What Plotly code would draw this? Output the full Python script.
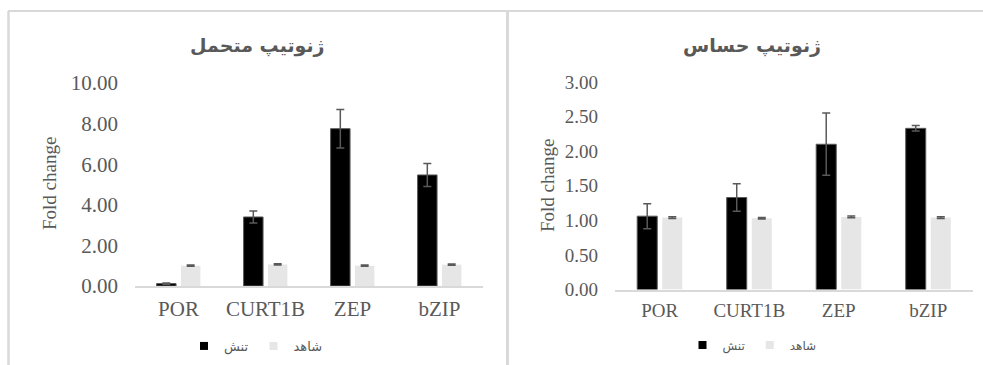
import plotly.graph_objects as go

genes = ["POR", "CURT1B", "ZEP", "bZIP"]
series_names = ["تنش", "شاهد"]
panel_titles = ["ژنوتیپ متحمل", "ژنوتیپ حساس"]

tol_stress = [0.12, 3.40, 7.75, 5.47]
tol_stress_err = [0.03, 0.30, 0.95, 0.57]
tol_control = [1.00, 1.06, 1.00, 1.05]
tol_control_err = [0.03, 0.03, 0.03, 0.03]

sen_stress = [1.06, 1.33, 2.10, 2.33]
sen_stress_err = [0.18, 0.20, 0.45, 0.04]
sen_control = [1.04, 1.03, 1.05, 1.04]
sen_control_err = [0.012, 0.012, 0.012, 0.012]

tol_ticks = [0, 2, 4, 6, 8, 10]
sen_ticks = [0, 0.5, 1, 1.5, 2, 2.5, 3]

W, H = 983, 365
def px(x):
    return x / W
def py(y):
    return (H - y) / H

GREY = "#595959"
BLACK = "#000000"
LIGHT = "#e7e6e6"
BORDER = "#d9d9d9"
SERIF = "Liberation Serif, Times New Roman, serif"
ARAB = "DejaVu Sans, sans-serif"

fig = go.Figure()

def add_pair(stress, s_err, control, c_err, xa, ya, legend):
    fig.add_trace(go.Bar(
        x=genes, y=stress, name=series_names[0], xaxis=xa, yaxis=ya, showlegend=False,
        marker=dict(color=BLACK, line=dict(color=GREY, width=1)),
        error_y=dict(type="data", array=s_err, visible=True, color=GREY, thickness=1.5, width=4),
    ))
    fig.add_trace(go.Bar(
        x=genes, y=control, name=series_names[1], xaxis=xa, yaxis=ya, showlegend=False,
        marker=dict(color=LIGHT, line=dict(color=LIGHT, width=0)),
        error_y=dict(type="data", array=c_err, visible=True, color=GREY, thickness=1.5, width=4),
    ))
    # legend entries (small square swatches)
    for name, col in zip(series_names, [BLACK, LIGHT]):
        fig.add_trace(go.Scatter(
            x=[None], y=[None], mode="markers", name=name, xaxis=xa, yaxis=ya, legend=legend,
            marker=dict(symbol="square", size=8, color=col), hoverinfo="skip",
        ))

add_pair(tol_stress, tol_stress_err, tol_control, tol_control_err, "x", "y", "legend")
add_pair(sen_stress, sen_stress_err, sen_control, sen_control_err, "x2", "y2", "legend2")

xcommon = dict(showline=True, linecolor=BORDER, linewidth=1.5, ticks="", showgrid=False,
               zeroline=False, fixedrange=True, automargin=False)
ycommon = dict(showline=False, ticks="", showgrid=False, zeroline=False, tickformat=".2f",
               fixedrange=True, automargin=False)

fig.update_layout(
    width=W, height=H, autosize=False,
    margin=dict(l=0, r=0, t=0, b=0, pad=0),
    paper_bgcolor="white", plot_bgcolor="white",
    barmode="group", bargap=0.44, bargroupgap=0.2,
    showlegend=True,
    xaxis=dict(domain=[px(135), px(483)], anchor="y",
               tickfont=dict(family=SERIF, size=21, color=GREY), ticklabelstandoff=3, **xcommon),
    yaxis=dict(domain=[py(286), py(83)], anchor="x", range=[0, 10], tickvals=tol_ticks,
               tickfont=dict(family=SERIF, size=21, color=GREY), ticklabelstandoff=16, **ycommon),
    xaxis2=dict(domain=[px(615), px(973)], anchor="y2",
                tickfont=dict(family=SERIF, size=19, color=GREY), ticklabelstandoff=3, **xcommon),
    yaxis2=dict(domain=[py(289.5), py(82)], anchor="x2", range=[0, 3], tickvals=sen_ticks,
                tickfont=dict(family=SERIF, size=19, color=GREY), ticklabelstandoff=16, **ycommon),
    legend=dict(orientation="h", x=px(256), y=py(346), xanchor="center", yanchor="middle",
                font=dict(family=ARAB, size=13, color=GREY), bgcolor="rgba(0,0,0,0)",
                itemclick=False, itemdoubleclick=False),
    legend2=dict(orientation="h", x=px(752), y=py(345), xanchor="center", yanchor="middle",
                 font=dict(family=ARAB, size=12, color=GREY), bgcolor="rgba(0,0,0,0)",
                 itemclick=False, itemdoubleclick=False),
    annotations=[
        dict(text="<b>" + panel_titles[0] + "</b>", x=px(257), y=py(45), xref="paper", yref="paper",
             xanchor="center", yanchor="middle",
             showarrow=False, font=dict(family=ARAB, size=19, color=GREY)),
        dict(text="<b>" + panel_titles[1] + "</b>", x=px(752), y=py(45), xref="paper", yref="paper",
             xanchor="center", yanchor="middle",
             showarrow=False, font=dict(family=ARAB, size=19, color=GREY)),
        dict(text="Fold change", x=px(50), y=py(184), xref="paper", yref="paper",
             xanchor="center", yanchor="middle",
             showarrow=False, textangle=-90, font=dict(family=SERIF, size=19, color=GREY)),
        dict(text="Fold change", x=px(547), y=py(186), xref="paper", yref="paper",
             xanchor="center", yanchor="middle",
             showarrow=False, textangle=-90, font=dict(family=SERIF, size=19, color=GREY)),
    ],
    shapes=[
        dict(type="line", xref="paper", yref="paper", x0=px(8), x1=1, y0=py(11), y1=py(11),
             line=dict(color=BORDER, width=2)),
        dict(type="line", xref="paper", yref="paper", x0=px(8.5), x1=px(8.5), y0=py(11), y1=0,
             line=dict(color=BORDER, width=2.5)),
        dict(type="line", xref="paper", yref="paper", x0=px(507.5), x1=px(507.5), y0=py(11), y1=0,
             line=dict(color=BORDER, width=3)),
    ],
)

fig.write_html(
    "out.html",
    config={"displayModeBar": False},
    post_script="document.body.style.margin='0';document.body.style.overflow='hidden';",
)
